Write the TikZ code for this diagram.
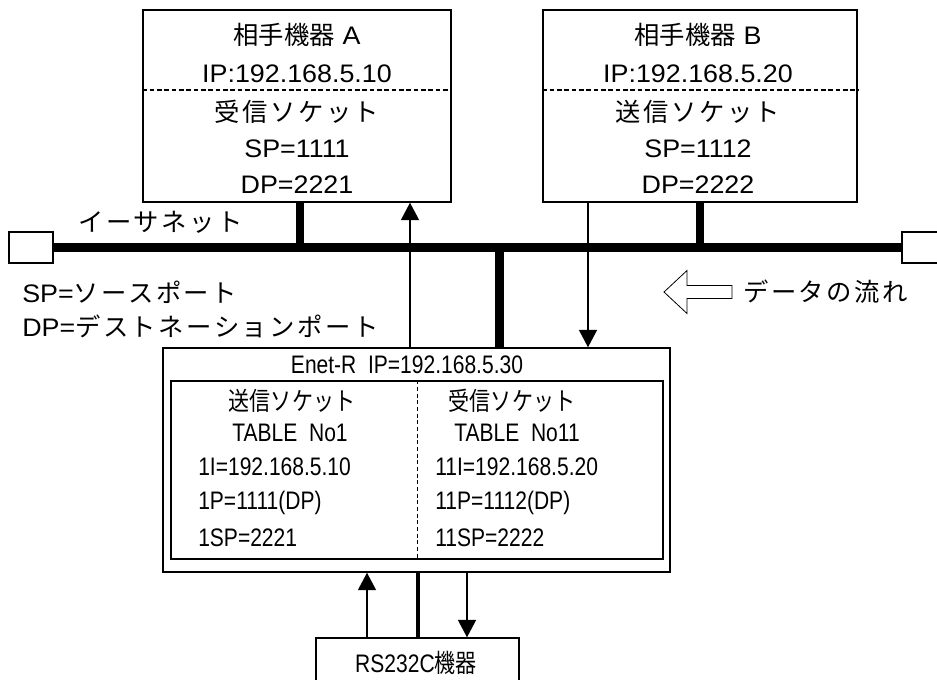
\documentclass[tikz,border=0pt]{standalone}
\usepackage{fontspec}
\setmainfont{Liberation Sans}[FakeStretch=1.06]
\newfontfamily\jpN{Noto Sans CJK JP}[LetterSpace=10]
\newfontfamily\jpK{Noto Sans CJK JP}
\newfontfamily\jpC{Noto Sans CJK JP}[FakeStretch=0.83]
\newfontfamily\latC{Liberation Sans}[FakeStretch=0.83]
\newcommand{\jp}{\jpN}
\usetikzlibrary{arrows.meta,positioning}

\begin{document}
\begin{tikzpicture}
  [x=0.75pt,y=-0.75pt,
   every node/.style={inner sep=0pt,font=\fontsize{19}{22}\selectfont},
   narrow/.style={font=\fontsize{19}{22}\latC\let\jp\jpC},
   box/.style={draw,line width=1.1pt,rectangle,minimum height=144pt},
   port/.style={draw,line width=1.1pt,rectangle,minimum width=33pt,minimum height=23.25pt},
   bus/.style={line width=6.75pt},
   tap/.style={line width=6pt},
   split/.style={dash pattern=on 3.5pt off 2pt,line width=0.8pt},
   >={Triangle[length=13pt,width=13.5pt]},
   data/.style={->,line width=1pt}]
  \useasboundingbox (0,0) rectangle (937,679);

  \node (devA) [box,minimum width=231pt] at (297,106) {};
  \node (devB) [box,minimum width=235.5pt] at (700,106) {};
  \node (portL) [port] at (31,247.5) {};
  \node (portR) [port] at (924,247.5) {};
  \node (enet) [box,minimum width=380.25pt,minimum height=168pt] at (416.5,460) {};
  \node (tbl) [box,minimum width=369pt,minimum height=133.5pt] at (417,470) {};
  \node (rs) [box,minimum width=152.25pt,minimum height=36pt] at (417.5,662) {};

  \node (aName) [anchor=base] at (297,44) {{\jpK 相手機器}\hspace{0.3em}A};
  \node (aIP) [anchor=base] at (297,82) {IP:192.168.5.10};
  \node (aSock) [anchor=base] at (297,121) {\jp 受信ソケット};
  \node (aSP) [anchor=base] at (297,157) {SP=1111};
  \node (aDP) [anchor=base] at (297,193) {DP=2221};

  \node (bName) [anchor=base] at (698,44) {{\jpK 相手機器}\hspace{0.3em}B};
  \node (bIP) [anchor=base] at (698,82) {IP:192.168.5.20};
  \node (bSock) [anchor=base] at (698,121) {\jp 送信ソケット};
  \node (bSP) [anchor=base] at (698,157) {SP=1112};
  \node (bDP) [anchor=base] at (698,193) {DP=2222};

  \node (netLbl) [anchor=base west] at (78,231) {\jp イーサネット};
  \node (spNote) [anchor=base west] at (22,302) {SP={\jp ソースポート}};
  \node (dpNote) [anchor=base west] at (22,336) {DP={\jp デストネーションポート}};
  \node (flowLbl) [anchor=base west] at (743,301) {\jp データの流れ};

  \node (enetLbl) [narrow,anchor=base] at (407,373) {Enet-R\ \ IP=192.168.5.30};
  \node (txHead) [narrow,anchor=base] at (292,410) {\jp 送信ソケット};
  \node (txTbl) [narrow,anchor=base] at (290,441) {TABLE\ \ No1};
  \node (txIP) [narrow,anchor=base west] at (198,475) {1I=192.168.5.10};
  \node (txP) [narrow,anchor=base west] at (198,509) {1P=1111(DP)};
  \node (txSP) [narrow,anchor=base west] at (198,546) {1SP=2221};
  \node (rxHead) [narrow,anchor=base] at (512,410) {\jp 受信ソケット};
  \node (rxTbl) [narrow,anchor=base] at (517,441) {TABLE\ \ No11};
  \node (rxIP) [narrow,anchor=base west] at (435,475) {11I=192.168.5.20};
  \node (rxP) [narrow,anchor=base west] at (435,509) {11P=1112(DP)};
  \node (rxSP) [narrow,anchor=base west] at (435,546) {11SP=2222};
  \node (rsLbl) [narrow,anchor=base] at (416,672) {RS232C{\jp 機器}};

  \coordinate (tapA) at (300,247);
  \coordinate (tapB) at (700,247);
  \coordinate (tapE) at (499,247);
  \coordinate (upX) at (410,0);
  \coordinate (dnX) at (588,0);
  \coordinate (upY) at (367,0);
  \coordinate (dnY) at (467,0);
  \coordinate (splitA) at (0,90);

  \draw[split] (devA.west |- splitA) -- (devA.east |- splitA);
  \draw[split] (devB.west |- splitA) -- (devB.east |- splitA);
  \draw[dash pattern=on 3pt off 2pt,line width=0.7pt] (tbl.north) -- (tbl.south);

  \draw[bus] (portL.east) -- (portR.west);
  \draw[tap] (tapA) -- (tapA |- devA.south);
  \draw[tap] (tapB) -- (tapB |- devB.south);
  \draw[bus] (tapE) -- (tapE |- enet.north);
  \draw[line width=3pt] (rs.north) -- (rs.north |- enet.south);

  \path[data]
  (enet.north -| upX) edge (devA.south -| upX)
  (devB.south -| dnX) edge (enet.north -| dnX)
  (rs.north -| upY) edge (enet.south -| upY)
  (enet.south -| dnY) edge (rs.north -| dnY);

  \draw[line width=0.6pt] (664,292) -- (687,270.5) -- (687,285.5) -- (732,285.5)
    -- (732,298.5) -- (687,298.5) -- (687,313.5) -- cycle;
\end{tikzpicture}
\end{document}
